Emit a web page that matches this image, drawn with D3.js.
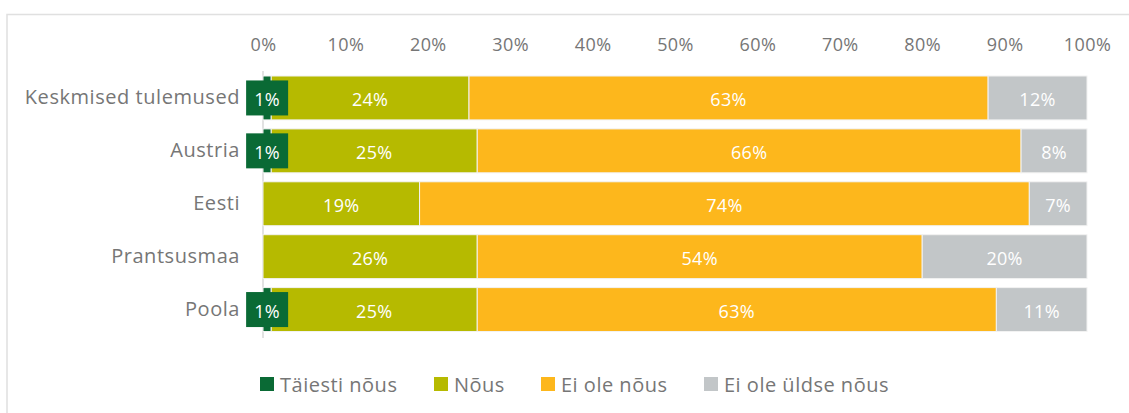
<!DOCTYPE html>
<html>
<head>
<meta charset="utf-8">
<script src="https://cdn.jsdelivr.net/npm/d3@7"></script>
<style>
  html, body { margin: 0; padding: 0; background: #fff; }
  svg { display: block; font-family: "Open Sans", sans-serif; }
</style>
</head>
<body>
<svg id="chart" width="1129" height="413"></svg>
<script>
// Survey answers by country (percent of respondents)
const categories = ["Keskmised tulemused", "Austria", "Eesti", "Prantsusmaa", "Poola"];
const seriesNames = ["Täiesti nõus", "Nõus", "Ei ole nõus", "Ei ole üldse nõus"];
const taiestiNous = [1, 1, 0, 0, 1];
const nous = [24, 25, 19, 26, 25];
const eiOleNous = [63, 66, 74, 54, 63];
const eiOleYldseNous = [12, 8, 7, 20, 11];
const tickValues = [0, 10, 20, 30, 40, 50, 60, 70, 80, 90, 100];
const colors = ["#0a6a35", "#b6ba00", "#fdb71c", "#c2c6c8"];

const seriesValues = [taiestiNous, nous, eiOleNous, eiOleYldseNous];
const rows = categories.map((c, i) => {
  const r = { category: c };
  seriesNames.forEach((s, k) => { r[s] = seriesValues[k][i]; });
  return r;
});

const svg = d3.select("#chart");
const textGrey = "#767676";
const font = "'Open Sans', sans-serif";

// chart frame
svg.append("path")
  .attr("d", "M7,413 V14.5 H1129")
  .attr("fill", "none")
  .attr("stroke", "#e0e0e0")
  .attr("stroke-width", 1.5);

const x = d3.scaleLinear().domain([0, 100]).range([263, 1087]);
const y = d3.scaleBand().domain(categories).range([71.5, 336]).paddingInner(0.17).paddingOuter(0.085);

// top percentage axis
const xAxis = d3.axisTop(x).tickValues(tickValues).tickFormat(d => d + "%").tickSize(0).tickPadding(0);
const gx = svg.append("g").attr("transform", "translate(0,51)").call(xAxis);
gx.select(".domain").remove();
gx.selectAll("text").attr("fill", textGrey)
  .style("font-size", "18px").style("letter-spacing", "0.4px").style("font-family", font);

// zero line
svg.append("line")
  .attr("x1", x(0)).attr("x2", x(0))
  .attr("y1", 71).attr("y2", 338)
  .attr("stroke", "#d9d9d9").attr("stroke-width", 1.5);

// category axis
const yAxis = d3.axisLeft(y).tickSize(0).tickPadding(0);
const gy = svg.append("g").attr("transform", "translate(240,0)").call(yAxis);
gy.select(".domain").remove();
gy.selectAll("text").attr("fill", textGrey)
  .style("font-size", "20px").style("letter-spacing", "0.55px").style("font-family", font);

const stacked = d3.stack().keys(seriesNames)(rows);

const layers = svg.selectAll("g.layer").data(stacked).join("g")
  .attr("class", "layer")
  .attr("fill", (d, i) => colors[i]);

layers.selectAll("rect").data(d => d.filter(s => s[1] - s[0] > 0)).join("rect")
  .attr("x", d => x(d[0]))
  .attr("width", d => x(d[1]) - x(d[0]))
  .attr("y", d => y(d.data.category))
  .attr("height", y.bandwidth())
  .attr("stroke", "#f2f2f2")
  .attr("stroke-width", 1);

// value labels
stacked.forEach((layer, k) => {
  layer.forEach(seg => {
    const v = seg[1] - seg[0];
    if (v <= 0) return;
    const cx = (x(seg[0]) + x(seg[1])) / 2;
    const cy = y(seg.data.category) + y.bandwidth() / 2;
    if (k === 0) {
      // small segment label sits on a filled box
      svg.append("rect")
        .attr("x", cx - 21).attr("y", cy - 17.5)
        .attr("width", 42).attr("height", 35)
        .attr("fill", colors[0]);
    }
    svg.append("text")
      .attr("x", cx).attr("y", cy + 1)
      .attr("text-anchor", "middle")
      .attr("dominant-baseline", "central")
      .attr("fill", "#fff")
      .style("font-size", "18px")
      .style("letter-spacing", "0.3px")
      .text(v + "%");
  });
});

// legend
const legendX = [260, 434, 541, 704];
const legend = svg.append("g").attr("transform", "translate(0,384)");
seriesNames.forEach((s, i) => {
  const g = legend.append("g").attr("transform", `translate(${legendX[i]},0)`);
  g.append("rect").attr("x", 0).attr("y", -7).attr("width", 14).attr("height", 14).attr("fill", colors[i]);
  g.append("text").attr("x", 20).attr("y", 0)
    .attr("dominant-baseline", "central")
    .attr("fill", textGrey)
    .style("font-size", "20px")
    .style("letter-spacing", "0.5px")
    .text(s);
});
</script>
</body>
</html>
